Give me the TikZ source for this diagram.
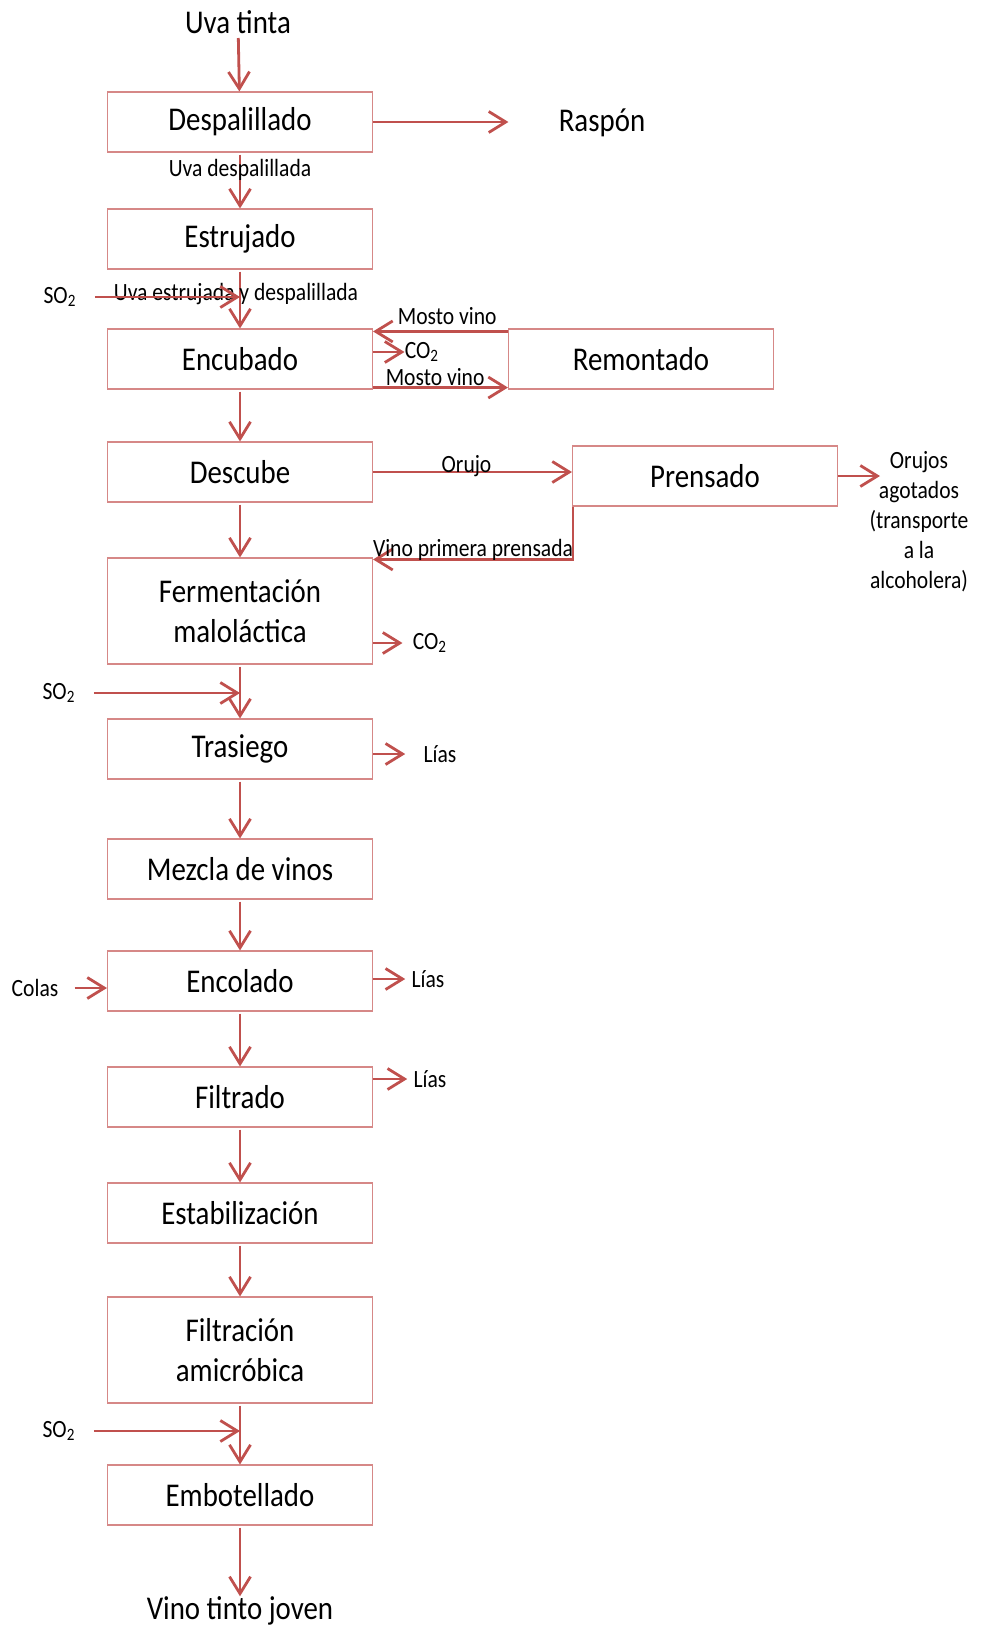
\documentclass[tikz,border=0pt]{standalone}
\usepackage{fontspec}
\setmainfont{Carlito}[FakeStretch=0.87]
\usepackage{tikz}
\usetikzlibrary{arrows.meta}
\definecolor{flujo}{RGB}{192,80,77}
\definecolor{borde}{RGB}{214,136,135}
\newcommand{\txtgrande}{\fontsize{16.6}{20}\selectfont}
\newcommand{\txtpeq}{\fontsize{12.4}{15}\selectfont}

\begin{document}
\begin{tikzpicture}[x=0.5pt, y=-0.5pt,
    proceso/.style={draw=borde, line width=0.55pt, minimum width=132.5pt, minimum height=30pt, inner sep=0pt, align=center, font=\txtgrande},
    proceso2/.style={proceso, minimum height=53pt},
    flecha/.style={draw=flujo, line width=1.4pt, -{Straight Barb[length=8.5pt, width=10.5pt]}},
    etiq/.style={font=\txtpeq, inner sep=0pt},
    titulo/.style={font=\txtgrande, inner sep=0pt}]
            \useasboundingbox (0,0) rectangle (988,1628);
            % linea principal
            \node[titulo] (uva) at (238,22) {Uva tinta};
            \node[proceso] (desp) at (240,122) {Despalillado};
            \node[titulo] (rasp) at (602,123) {Raspón};
            \node[proceso] (estr) at (240,239) {Estrujado};
            \node[proceso] (encu) at (240,359) {Encubado};
            \node[proceso] (remo) at (641,359) {Remontado};
            \node[proceso] (desc) at (240,472) {Descube};
            \node[proceso] (pren) at (705,476) {Prensado};
            \node[proceso2] (ferm) at (240,611) {Fermentación\\maloláctica};
            \node[proceso] (tras) at (240,749) {Trasiego};
            \node[proceso] (mezc) at (240,869) {Mezcla de vinos};
            \node[proceso] (enco) at (240,981) {Encolado};
            \node[proceso] (filt) at (240,1097) {Filtrado};
            \node[proceso] (esta) at (240,1213) {Estabilización};
            \node[proceso2] (fami) at (240,1350) {Filtración\\amicróbica};
            \node[proceso] (embo) at (240,1495) {Embotellado};
            \node[titulo] (vino) at (240,1611) {Vino tinto joven};
            % entradas y salidas
            \node[etiq] (so2a) at (60,297) {SO\textsubscript{2}};
            \node[etiq] (co2a) at (422,352) {CO\textsubscript{2}};
            \node[etiq] (co2b) at (430,643) {CO\textsubscript{2}};
            \node[etiq] (so2b) at (59,693) {SO\textsubscript{2}};
            \node[etiq] (lias1) at (440,754) {Lías};
            \node[etiq] (cola) at (35,988) {Colas};
            \node[etiq] (lias2) at (428,979) {Lías};
            \node[etiq] (lias3) at (430,1079) {Lías};
            \node[etiq] (so2c) at (59,1431) {SO\textsubscript{2}};
            \node[etiq, align=center] (oruj) at (919,522) {Orujos\\agotados\\(transporte\\a la\\alcoholera)};
            \coordinate (finoruj) at (880,474);
            % flechas
            \draw[flecha, shorten <=2pt] (uva) -- (desp);
            \draw[flecha, shorten >=25pt] (desp.east) -- (desp.east -| rasp.west);
            \draw[flecha, shorten <=1pt] (desp) -- node[etiq, pos=0.31] {Uva despalillada} (estr);
            \draw[flecha, shorten <=1pt] (estr) -- node[etiq, pos=0.42, xshift=-2pt] {Uva estrujada y despalillada} (encu);
            \draw[flecha, shorten <=9pt] (so2a.east) -- (so2a.east -| estr.south);
            \draw[flecha] ([yshift=-1.5pt]remo.north west) -- node[etiq, pos=0.45, above=2.5pt] {Mosto vino} ([yshift=-1.5pt]encu.north east);
            \draw[flecha] (encu.east |- co2a) -- (co2a.west);
            \draw[flecha] ([yshift=1pt]encu.south east) -- node[etiq, pos=0.46, anchor=base, yshift=1pt] {Mosto vino} ([yshift=1pt]remo.south west);
            \draw[flecha, shorten <=1pt] (encu) -- (desc);
            \draw[flecha] (desc.east) -- node[etiq, pos=0.47, anchor=base] {Orujo} (desc.east -| pren.west);
            \draw[flecha] (pren.east) -- (pren.east -| finoruj);
            \draw[flecha] ([xshift=0.5pt]pren.south west) |- node[etiq, pos=0.75, anchor=base, yshift=1.5pt] {Vino primera prensada} ([yshift=-1pt]ferm.north east);
            \draw[flecha, shorten <=1pt] (desc) -- (ferm);
            \draw[flecha, shorten >=5pt] (ferm.east |- co2b) -- (co2b.west);
            \draw[flecha, shorten <=1pt] (ferm) -- (tras);
            \draw[flecha, shorten <=9pt] (so2b.east) -- (so2b.east -| ferm.south);
            \draw[flecha, shorten >=9pt] (tras.east |- lias1) -- (lias1.west);
            \draw[flecha, shorten <=1pt] (tras) -- (mezc);
            \draw[flecha, shorten <=1pt] (mezc) -- (enco);
            \draw[flecha, shorten <=8pt] (cola.east) -- (cola.east -| enco.west);
            \draw[flecha, shorten >=3pt] (enco.east |- lias2) -- (lias2.west);
            \draw[flecha, shorten <=1pt] (enco) -- (filt);
            \draw[flecha, shorten >=3pt] (filt.east |- lias3) -- (lias3.west);
            \draw[flecha, shorten <=1pt] (filt) -- (esta);
            \draw[flecha, shorten <=1pt] (esta) -- (fami);
            \draw[flecha, shorten <=1pt] (fami) -- (embo);
            \draw[flecha, shorten <=9pt] (so2c.east) -- (so2c.east -| fami.south);
            \draw[flecha, shorten <=1pt] (embo) -- (vino);
        \end{tikzpicture}
\end{document}
